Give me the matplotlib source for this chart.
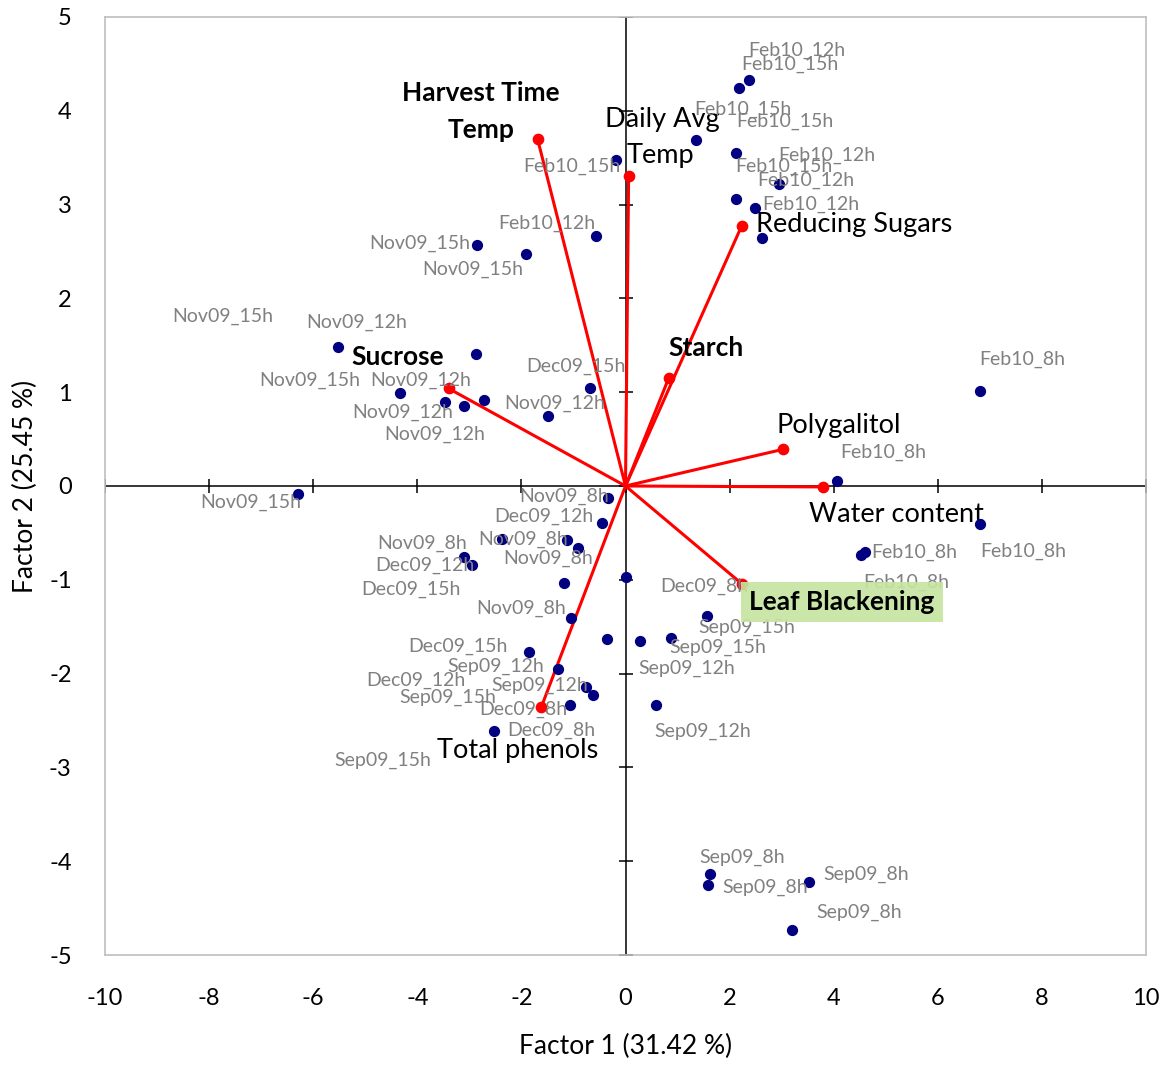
import matplotlib
matplotlib.use("Agg")
import matplotlib.pyplot as plt
import numpy as np

plt.rcParams["font.family"] = ["Lato", "DejaVu Sans"]
plt.rcParams["axes.unicode_minus"] = False

# sample scores (Factor 1, Factor 2)
score_x = [2.37, 2.19, 1.35, 2.13, 2.94, 2.12, 2.48, 2.63, -0.19, -0.56,
           6.81, 4.06, 6.81, 4.52, 4.60,
           -2.85, -1.92, -5.52, -2.88, -4.33, -3.46, -3.10, -2.71, -1.48, -0.69, -6.29,
           -0.33, -0.46, -2.37, -1.13, -0.92, -3.11, -2.94, -1.19, 0.00, -1.04,
           -0.35, 0.27, -1.85, -1.29, -0.75, -0.62, -1.06, -2.52,
           1.56, 0.88, 0.58,
           1.62, 1.58, 3.52, 3.19]
score_y = [4.33, 4.24, 3.69, 3.55, 3.22, 3.06, 2.96, 2.64, 3.48, 2.67,
           1.01, 0.05, -0.41, -0.74, -0.70,
           2.57, 2.47, 1.48, 1.41, 0.99, 0.90, 0.85, 0.92, 0.75, 1.04, -0.09,
           -0.13, -0.39, -0.57, -0.58, -0.66, -0.76, -0.84, -1.03, -0.97, -1.41,
           -1.63, -1.65, -1.77, -1.95, -2.14, -2.23, -2.33, -2.61,
           -1.39, -1.62, -2.33,
           -4.14, -4.25, -4.22, -4.73]

# sample labels as placed on the chart
label_text = ["Feb10_12h", "Feb10_15h", "Feb10_15h", "Feb10_15h", "Feb10_12h",
              "Feb10_15h", "Feb10_12h", "Feb10_12h", "Feb10_15h", "Feb10_12h",
              "Nov09_15h", "Nov09_15h", "Nov09_15h", "Nov09_12h", "Nov09_15h",
              "Nov09_12h", "Nov09_12h", "Nov09_12h", "Nov09_12h", "Dec09_15h",
              "Feb10_8h", "Feb10_8h", "Nov09_15h", "Nov09_8h", "Dec09_12h",
              "Nov09_8h", "Nov09_8h", "Nov09_8h", "Dec09_12h", "Dec09_15h",
              "Nov09_8h", "Feb10_8h", "Feb10_8h", "Feb10_8h", "Dec09_8h",
              "Sep09_15h", "Sep09_15h", "Sep09_12h", "Dec09_15h", "Sep09_12h",
              "Dec09_12h", "Sep09_15h", "Sep09_12h", "Dec09_8h", "Dec09_8h",
              "Sep09_15h", "Sep09_12h", "Sep09_8h", "Sep09_8h", "Sep09_8h",
              "Sep09_8h"]
label_x = [2.35, 2.23, 1.33, 2.13, 2.94, 2.10, 2.54, 2.62, -1.96, -2.44,
           -4.92, -3.90, -8.71, -6.13, -7.04, -4.90, -5.25, -4.63, -2.33, -1.90,
           6.79, 4.12, -8.17, -2.04, -2.52, -4.77, -2.83, -2.35, -4.81, -5.08,
           -2.87, 4.73, 6.81, 4.56, 0.67, 1.40, 0.85, 0.25, -4.17, -3.42,
           -4.98, -4.35, -2.58, -2.81, -2.27, -5.60, 0.56, 1.42, 1.87, 3.81,
           3.67]
label_y = [4.64, 4.49, 4.02, 3.89, 3.52, 3.41, 3.26, 3.00, 3.41, 2.80,
           2.59, 2.31, 1.81, 1.74, 1.13, 1.13, 0.78, 0.55, 0.88, 1.28,
           1.35, 0.36, -0.17, -0.11, -0.32, -0.61, -0.57, -0.77, -0.85, -1.10,
           -1.30, -0.71, -0.70, -1.03, -1.07, -1.51, -1.72, -1.94, -1.71, -1.92,
           -2.07, -2.25, -2.13, -2.38, -2.60, -2.92, -2.62, -3.96, -4.28, -4.14,
           -4.55]

# variable loadings
var_names = ["Harvest Time\nTemp", "Daily Avg\nTemp", "Reducing Sugars", "Starch",
             "Polygalitol", "Water content", "Leaf Blackening", "Sucrose",
             "Total phenols"]
var_x = [-1.69, 0.06, 2.23, 0.83, 3.02, 3.79, 2.23, -3.40, -1.62]
var_y = [3.70, 3.30, 2.77, 1.15, 0.39, -0.01, -1.04, 1.04, -2.36]

xticks = np.arange(-10, 11, 2)
yticks = np.arange(-5, 6, 1)

fig = plt.figure(figsize=(11.66, 10.68), dpi=100)
ax = fig.add_axes([0.0901, 0.1058, 0.8927, 0.8783])
ax.set_xlim(-10, 10)
ax.set_ylim(-5, 5)

for s in ax.spines.values():
    s.set_color("#bfbfbf")
    s.set_linewidth(1.2)
ax.set_xticks(xticks)
ax.set_yticks(yticks)
ax.tick_params(length=0, labelsize=17)
ax.tick_params(axis="x", pad=24)
ax.tick_params(axis="y", pad=24)

# axes crossing at the origin
ax.axhline(0, color="black", lw=1.1, zorder=1)
ax.axvline(0, color="black", lw=1.1, zorder=1)
ax.plot(xticks, np.zeros(len(xticks)), ls="none", marker="|", ms=10,
        mew=1.1, color="black", zorder=1)
ax.plot(np.zeros(len(yticks)), yticks, ls="none", marker="_", ms=10,
        mew=1.1, color="black", zorder=1)

# loading vectors
for vx, vy in zip(var_x, var_y):
    ax.plot([0, vx], [0, vy], color="red", lw=2.2, zorder=2)
ax.scatter(var_x, var_y, s=55, color="red", zorder=3)

ax.scatter(score_x, score_y, s=50, color="#000080", zorder=4)

for t, lx, ly in zip(label_text, label_x, label_y):
    ax.text(lx, ly, t, color="#808080", fontsize=14, ha="left", va="center",
            zorder=5)

# variable labels
ax.text(-2.78, 4.19, "Harvest Time", fontsize=19, fontweight="bold",
        ha="center", va="center")
ax.text(-2.78, 3.79, "Temp", fontsize=19, fontweight="bold",
        ha="center", va="center")
ax.text(-0.40, 3.91, "Daily Avg", fontsize=19.5, ha="left", va="center")
ax.text(0.02, 3.52, "Temp", fontsize=19.5, ha="left", va="center")
ax.text(2.50, 2.79, "Reducing Sugars", fontsize=19.5, ha="left", va="center")
ax.text(0.82, 1.47, "Starch", fontsize=19, fontweight="bold", ha="left",
        va="center")
ax.text(-5.27, 1.37, "Sucrose", fontsize=19, fontweight="bold", ha="left",
        va="center")
ax.text(2.90, 0.64, "Polygalitol", fontsize=19.5, ha="left", va="center")
ax.text(3.52, -0.30, "Water content", fontsize=19.5, ha="left", va="center")
ax.text(-3.62, -2.82, "Total phenols", fontsize=19.5, ha="left", va="center")
ax.text(2.38, -1.24, "Leaf Blackening", fontsize=19, fontweight="bold",
        ha="left", va="center", zorder=6,
        bbox=dict(boxstyle="square,pad=0.3", facecolor="#c5e5a0",
                  edgecolor="none", alpha=0.9))

ax.set_xlabel("Factor 1 (31.42 %)", fontsize=19, labelpad=18)
ax.set_ylabel("Factor 2 (25.45 %)", fontsize=19, labelpad=8)

fig.savefig("out.png", dpi=100)
